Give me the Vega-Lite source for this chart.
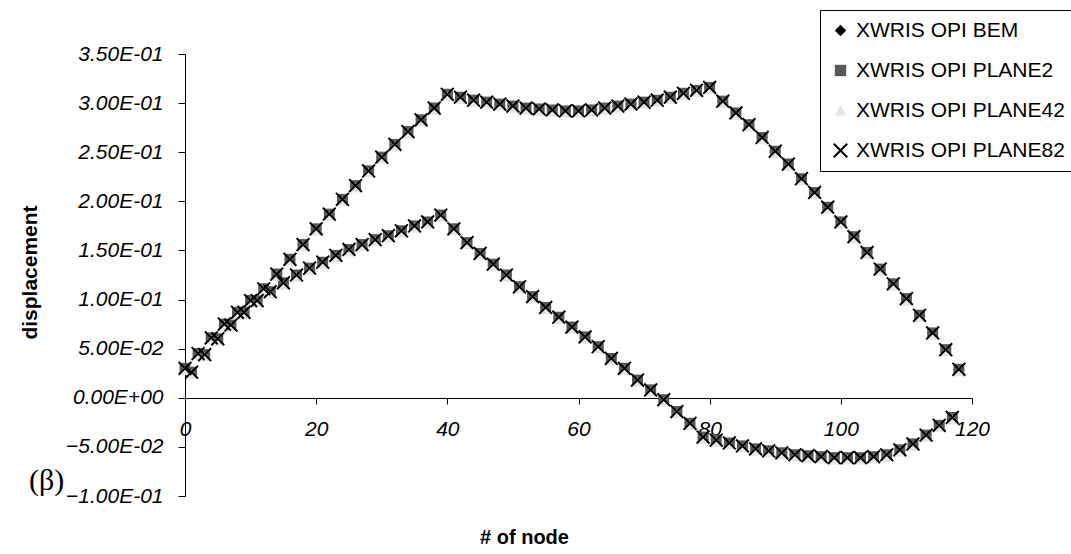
{
 "$schema": "https://vega.github.io/schema/vega-lite/v6.json",
 "autosize": "none",
 "width": 787,
 "height": 442,
 "padding": {"left": 185, "top": 54, "right": 99, "bottom": 58},
 "background": "white",
 "config": {"view": {"stroke": null}, "font": "Liberation Sans"},
 "title": {"text": "(β)", "orient": "top", "anchor": "start", "frame": "group", "font": "Liberation Serif", "fontSize": 30, "fontWeight": "normal", "color": "black", "dx": -156, "dy": 490},
 "data": {"values": [
  {"node":0,"BEM":0.030,"PLANE2":0.030,"PLANE42":0.028,"PLANE82":0.030},
  {"node":1,"BEM":0.026,"PLANE2":0.026,"PLANE42":0.024,"PLANE82":0.026},
  {"node":2,"BEM":0.045,"PLANE2":0.045,"PLANE42":0.043,"PLANE82":0.045},
  {"node":3,"BEM":0.044,"PLANE2":0.044,"PLANE42":0.042,"PLANE82":0.044},
  {"node":4,"BEM":0.061,"PLANE2":0.061,"PLANE42":0.059,"PLANE82":0.061},
  {"node":5,"BEM":0.060,"PLANE2":0.060,"PLANE42":0.058,"PLANE82":0.060},
  {"node":6,"BEM":0.075,"PLANE2":0.075,"PLANE42":0.073,"PLANE82":0.075},
  {"node":7,"BEM":0.074,"PLANE2":0.074,"PLANE42":0.072,"PLANE82":0.074},
  {"node":8,"BEM":0.087,"PLANE2":0.087,"PLANE42":0.085,"PLANE82":0.087},
  {"node":9,"BEM":0.087,"PLANE2":0.087,"PLANE42":0.085,"PLANE82":0.087},
  {"node":10,"BEM":0.099,"PLANE2":0.099,"PLANE42":0.097,"PLANE82":0.099},
  {"node":11,"BEM":0.099,"PLANE2":0.099,"PLANE42":0.097,"PLANE82":0.099},
  {"node":12,"BEM":0.111,"PLANE2":0.111,"PLANE42":0.109,"PLANE82":0.111},
  {"node":13,"BEM":0.108,"PLANE2":0.108,"PLANE42":0.106,"PLANE82":0.108},
  {"node":14,"BEM":0.126,"PLANE2":0.126,"PLANE42":0.124,"PLANE82":0.126},
  {"node":15,"BEM":0.117,"PLANE2":0.117,"PLANE42":0.115,"PLANE82":0.117},
  {"node":16,"BEM":0.141,"PLANE2":0.141,"PLANE42":0.139,"PLANE82":0.141},
  {"node":17,"BEM":0.125,"PLANE2":0.125,"PLANE42":0.123,"PLANE82":0.125},
  {"node":18,"BEM":0.156,"PLANE2":0.156,"PLANE42":0.154,"PLANE82":0.156},
  {"node":19,"BEM":0.132,"PLANE2":0.132,"PLANE42":0.130,"PLANE82":0.132},
  {"node":20,"BEM":0.172,"PLANE2":0.172,"PLANE42":0.170,"PLANE82":0.172},
  {"node":21,"BEM":0.138,"PLANE2":0.138,"PLANE42":0.136,"PLANE82":0.138},
  {"node":22,"BEM":0.187,"PLANE2":0.187,"PLANE42":0.185,"PLANE82":0.187},
  {"node":23,"BEM":0.145,"PLANE2":0.145,"PLANE42":0.143,"PLANE82":0.145},
  {"node":24,"BEM":0.202,"PLANE2":0.202,"PLANE42":0.200,"PLANE82":0.202},
  {"node":25,"BEM":0.151,"PLANE2":0.151,"PLANE42":0.149,"PLANE82":0.151},
  {"node":26,"BEM":0.216,"PLANE2":0.216,"PLANE42":0.214,"PLANE82":0.216},
  {"node":27,"BEM":0.156,"PLANE2":0.156,"PLANE42":0.154,"PLANE82":0.156},
  {"node":28,"BEM":0.231,"PLANE2":0.231,"PLANE42":0.229,"PLANE82":0.231},
  {"node":29,"BEM":0.161,"PLANE2":0.161,"PLANE42":0.159,"PLANE82":0.161},
  {"node":30,"BEM":0.245,"PLANE2":0.245,"PLANE42":0.243,"PLANE82":0.245},
  {"node":31,"BEM":0.165,"PLANE2":0.165,"PLANE42":0.163,"PLANE82":0.165},
  {"node":32,"BEM":0.258,"PLANE2":0.258,"PLANE42":0.256,"PLANE82":0.258},
  {"node":33,"BEM":0.170,"PLANE2":0.170,"PLANE42":0.168,"PLANE82":0.170},
  {"node":34,"BEM":0.271,"PLANE2":0.271,"PLANE42":0.269,"PLANE82":0.271},
  {"node":35,"BEM":0.175,"PLANE2":0.175,"PLANE42":0.173,"PLANE82":0.175},
  {"node":36,"BEM":0.283,"PLANE2":0.283,"PLANE42":0.281,"PLANE82":0.283},
  {"node":37,"BEM":0.179,"PLANE2":0.179,"PLANE42":0.177,"PLANE82":0.179},
  {"node":38,"BEM":0.295,"PLANE2":0.295,"PLANE42":0.293,"PLANE82":0.295},
  {"node":39,"BEM":0.186,"PLANE2":0.186,"PLANE42":0.184,"PLANE82":0.186},
  {"node":40,"BEM":0.309,"PLANE2":0.309,"PLANE42":0.307,"PLANE82":0.309},
  {"node":41,"BEM":0.172,"PLANE2":0.172,"PLANE42":0.170,"PLANE82":0.172},
  {"node":42,"BEM":0.306,"PLANE2":0.306,"PLANE42":0.304,"PLANE82":0.306},
  {"node":43,"BEM":0.158,"PLANE2":0.158,"PLANE42":0.156,"PLANE82":0.158},
  {"node":44,"BEM":0.303,"PLANE2":0.303,"PLANE42":0.301,"PLANE82":0.303},
  {"node":45,"BEM":0.147,"PLANE2":0.147,"PLANE42":0.145,"PLANE82":0.147},
  {"node":46,"BEM":0.301,"PLANE2":0.301,"PLANE42":0.299,"PLANE82":0.301},
  {"node":47,"BEM":0.136,"PLANE2":0.136,"PLANE42":0.134,"PLANE82":0.136},
  {"node":48,"BEM":0.299,"PLANE2":0.299,"PLANE42":0.297,"PLANE82":0.299},
  {"node":49,"BEM":0.125,"PLANE2":0.125,"PLANE42":0.123,"PLANE82":0.125},
  {"node":50,"BEM":0.297,"PLANE2":0.297,"PLANE42":0.295,"PLANE82":0.297},
  {"node":51,"BEM":0.113,"PLANE2":0.113,"PLANE42":0.111,"PLANE82":0.113},
  {"node":52,"BEM":0.295,"PLANE2":0.295,"PLANE42":0.293,"PLANE82":0.295},
  {"node":53,"BEM":0.103,"PLANE2":0.103,"PLANE42":0.101,"PLANE82":0.103},
  {"node":54,"BEM":0.294,"PLANE2":0.294,"PLANE42":0.292,"PLANE82":0.294},
  {"node":55,"BEM":0.092,"PLANE2":0.092,"PLANE42":0.090,"PLANE82":0.092},
  {"node":56,"BEM":0.293,"PLANE2":0.293,"PLANE42":0.291,"PLANE82":0.293},
  {"node":57,"BEM":0.082,"PLANE2":0.082,"PLANE42":0.080,"PLANE82":0.082},
  {"node":58,"BEM":0.292,"PLANE2":0.292,"PLANE42":0.290,"PLANE82":0.292},
  {"node":59,"BEM":0.072,"PLANE2":0.072,"PLANE42":0.070,"PLANE82":0.072},
  {"node":60,"BEM":0.292,"PLANE2":0.292,"PLANE42":0.290,"PLANE82":0.292},
  {"node":61,"BEM":0.062,"PLANE2":0.062,"PLANE42":0.060,"PLANE82":0.062},
  {"node":62,"BEM":0.293,"PLANE2":0.293,"PLANE42":0.291,"PLANE82":0.293},
  {"node":63,"BEM":0.052,"PLANE2":0.052,"PLANE42":0.050,"PLANE82":0.052},
  {"node":64,"BEM":0.295,"PLANE2":0.295,"PLANE42":0.293,"PLANE82":0.295},
  {"node":65,"BEM":0.040,"PLANE2":0.040,"PLANE42":0.038,"PLANE82":0.040},
  {"node":66,"BEM":0.297,"PLANE2":0.297,"PLANE42":0.295,"PLANE82":0.297},
  {"node":67,"BEM":0.030,"PLANE2":0.030,"PLANE42":0.028,"PLANE82":0.030},
  {"node":68,"BEM":0.299,"PLANE2":0.299,"PLANE42":0.297,"PLANE82":0.299},
  {"node":69,"BEM":0.018,"PLANE2":0.018,"PLANE42":0.016,"PLANE82":0.018},
  {"node":70,"BEM":0.301,"PLANE2":0.301,"PLANE42":0.299,"PLANE82":0.301},
  {"node":71,"BEM":0.008,"PLANE2":0.008,"PLANE42":0.006,"PLANE82":0.008},
  {"node":72,"BEM":0.303,"PLANE2":0.303,"PLANE42":0.301,"PLANE82":0.303},
  {"node":73,"BEM":-0.002,"PLANE2":-0.002,"PLANE42":-0.004,"PLANE82":-0.002},
  {"node":74,"BEM":0.306,"PLANE2":0.306,"PLANE42":0.304,"PLANE82":0.306},
  {"node":75,"BEM":-0.014,"PLANE2":-0.014,"PLANE42":-0.016,"PLANE82":-0.014},
  {"node":76,"BEM":0.310,"PLANE2":0.310,"PLANE42":0.308,"PLANE82":0.310},
  {"node":77,"BEM":-0.026,"PLANE2":-0.026,"PLANE42":-0.028,"PLANE82":-0.026},
  {"node":78,"BEM":0.313,"PLANE2":0.313,"PLANE42":0.311,"PLANE82":0.313},
  {"node":79,"BEM":-0.040,"PLANE2":-0.040,"PLANE42":-0.042,"PLANE82":-0.040},
  {"node":80,"BEM":0.316,"PLANE2":0.316,"PLANE42":0.314,"PLANE82":0.316},
  {"node":81,"BEM":-0.043,"PLANE2":-0.043,"PLANE42":-0.045,"PLANE82":-0.043},
  {"node":82,"BEM":0.302,"PLANE2":0.302,"PLANE42":0.300,"PLANE82":0.302},
  {"node":83,"BEM":-0.046,"PLANE2":-0.046,"PLANE42":-0.048,"PLANE82":-0.046},
  {"node":84,"BEM":0.290,"PLANE2":0.290,"PLANE42":0.288,"PLANE82":0.290},
  {"node":85,"BEM":-0.049,"PLANE2":-0.049,"PLANE42":-0.051,"PLANE82":-0.049},
  {"node":86,"BEM":0.278,"PLANE2":0.278,"PLANE42":0.276,"PLANE82":0.278},
  {"node":87,"BEM":-0.052,"PLANE2":-0.052,"PLANE42":-0.054,"PLANE82":-0.052},
  {"node":88,"BEM":0.265,"PLANE2":0.265,"PLANE42":0.263,"PLANE82":0.265},
  {"node":89,"BEM":-0.054,"PLANE2":-0.054,"PLANE42":-0.056,"PLANE82":-0.054},
  {"node":90,"BEM":0.251,"PLANE2":0.251,"PLANE42":0.249,"PLANE82":0.251},
  {"node":91,"BEM":-0.056,"PLANE2":-0.056,"PLANE42":-0.058,"PLANE82":-0.056},
  {"node":92,"BEM":0.238,"PLANE2":0.238,"PLANE42":0.236,"PLANE82":0.238},
  {"node":93,"BEM":-0.058,"PLANE2":-0.058,"PLANE42":-0.060,"PLANE82":-0.058},
  {"node":94,"BEM":0.223,"PLANE2":0.223,"PLANE42":0.221,"PLANE82":0.223},
  {"node":95,"BEM":-0.059,"PLANE2":-0.059,"PLANE42":-0.061,"PLANE82":-0.059},
  {"node":96,"BEM":0.209,"PLANE2":0.209,"PLANE42":0.207,"PLANE82":0.209},
  {"node":97,"BEM":-0.060,"PLANE2":-0.060,"PLANE42":-0.062,"PLANE82":-0.060},
  {"node":98,"BEM":0.194,"PLANE2":0.194,"PLANE42":0.192,"PLANE82":0.194},
  {"node":99,"BEM":-0.061,"PLANE2":-0.061,"PLANE42":-0.063,"PLANE82":-0.061},
  {"node":100,"BEM":0.179,"PLANE2":0.179,"PLANE42":0.177,"PLANE82":0.179},
  {"node":101,"BEM":-0.061,"PLANE2":-0.061,"PLANE42":-0.063,"PLANE82":-0.061},
  {"node":102,"BEM":0.164,"PLANE2":0.164,"PLANE42":0.162,"PLANE82":0.164},
  {"node":103,"BEM":-0.061,"PLANE2":-0.061,"PLANE42":-0.063,"PLANE82":-0.061},
  {"node":104,"BEM":0.148,"PLANE2":0.148,"PLANE42":0.146,"PLANE82":0.148},
  {"node":105,"BEM":-0.060,"PLANE2":-0.060,"PLANE42":-0.062,"PLANE82":-0.060},
  {"node":106,"BEM":0.131,"PLANE2":0.131,"PLANE42":0.129,"PLANE82":0.131},
  {"node":107,"BEM":-0.058,"PLANE2":-0.058,"PLANE42":-0.060,"PLANE82":-0.058},
  {"node":108,"BEM":0.116,"PLANE2":0.116,"PLANE42":0.114,"PLANE82":0.116},
  {"node":109,"BEM":-0.053,"PLANE2":-0.053,"PLANE42":-0.055,"PLANE82":-0.053},
  {"node":110,"BEM":0.101,"PLANE2":0.101,"PLANE42":0.099,"PLANE82":0.101},
  {"node":111,"BEM":-0.047,"PLANE2":-0.047,"PLANE42":-0.049,"PLANE82":-0.047},
  {"node":112,"BEM":0.084,"PLANE2":0.084,"PLANE42":0.082,"PLANE82":0.084},
  {"node":113,"BEM":-0.038,"PLANE2":-0.038,"PLANE42":-0.040,"PLANE82":-0.038},
  {"node":114,"BEM":0.066,"PLANE2":0.066,"PLANE42":0.064,"PLANE82":0.066},
  {"node":115,"BEM":-0.028,"PLANE2":-0.028,"PLANE42":-0.030,"PLANE82":-0.028},
  {"node":116,"BEM":0.049,"PLANE2":0.049,"PLANE42":0.047,"PLANE82":0.049},
  {"node":117,"BEM":-0.020,"PLANE2":-0.020,"PLANE42":-0.022,"PLANE82":-0.020},
  {"node":118,"BEM":0.029,"PLANE2":0.029,"PLANE42":0.027,"PLANE82":0.029}
 ]},
 "transform": [{"fold": ["BEM", "PLANE2", "PLANE42", "PLANE82"], "as": ["series", "disp"]}],
 "mark": {"type": "point", "filled": true, "size": 120, "opacity": 1},
 "encoding": {
  "x": {"field": "node", "type": "quantitative",
   "scale": {"domain": [0, 120], "nice": false, "zero": false},
   "axis": {"values": [0, 20, 40, 60, 80, 100, 120], "offset": -98, "grid": false, "tickSize": 6, "labelPadding": 14, "labelFont": "Liberation Sans", "labelFontSize": 21, "labelFontStyle": "italic", "labelColor": "black", "labelFlush": false, "labelOverlap": false, "domainColor": "black", "tickColor": "black", "title": "# of node", "titleFont": "Liberation Sans", "titleFontSize": 20, "titleFontWeight": "bold", "titleColor": "black", "titleX": 339, "titleY": 139, "titleBaseline": "middle", "titleAlign": "center", "titleAnchor": null}},
  "y": {"field": "disp", "type": "quantitative",
   "scale": {"domain": [-0.1, 0.35], "nice": false, "zero": false},
   "axis": {"values": [-0.1, -0.05, 0, 0.05, 0.1, 0.15, 0.2, 0.25, 0.3, 0.35], "labelExpr": "replace(replace(format(datum.value, '.2e'), 'e-', 'E-0'), 'e+', 'E+0')", "grid": false, "tickSize": 7, "labelPadding": 15, "labelFont": "Liberation Sans", "labelFontSize": 21, "labelFontStyle": "italic", "labelColor": "black", "labelFlush": false, "labelOverlap": false, "domainColor": "black", "tickColor": "black", "title": "displacement", "titleFont": "Liberation Sans", "titleFontSize": 21, "titleFontWeight": "bold", "titleColor": "black", "titleX": -155, "titleY": 218, "titleAngle": -90, "titleBaseline": "middle", "titleAlign": "center"}},
  "color": {"field": "series", "type": "nominal",
   "scale": {"domain": ["BEM", "PLANE2", "PLANE42", "PLANE82"], "range": ["#000000", "#595959", "#e4e4e4", "#000000"]},
   "legend": {"title": null, "orient": "none", "legendX": 635, "legendY": -44, "strokeColor": "black", "fillColor": "white", "padding": 10, "rowPadding": 18, "labelFont": "Liberation Sans", "labelFontSize": 21, "labelColor": "black", "labelLimit": 0, "labelOffset": 5, "symbolSize": 130, "symbolOpacity": 1, "symbolStrokeWidth": 0, "labelExpr": "'XWRIS OPI ' + datum.label"}},
  "shape": {"field": "series", "type": "nominal",
   "scale": {"domain": ["BEM", "PLANE2", "PLANE42", "PLANE82"], "range": ["diamond", "square", "triangle-up", "M-1.3,-1.05L-1.05,-1.3L1.3,1.05L1.05,1.3Z M1.05,-1.3L1.3,-1.05L-1.05,1.3L-1.3,1.05Z"]},
   "legend": {"title": null, "orient": "none", "legendX": 635, "legendY": -44, "strokeColor": "black", "fillColor": "white", "padding": 10, "rowPadding": 18, "labelFont": "Liberation Sans", "labelFontSize": 21, "labelColor": "black", "labelLimit": 0, "labelOffset": 5, "symbolSize": 130, "symbolOpacity": 1, "symbolStrokeWidth": 0, "labelExpr": "'XWRIS OPI ' + datum.label"}},
  "order": {"field": "series", "type": "nominal"}
 }
}
